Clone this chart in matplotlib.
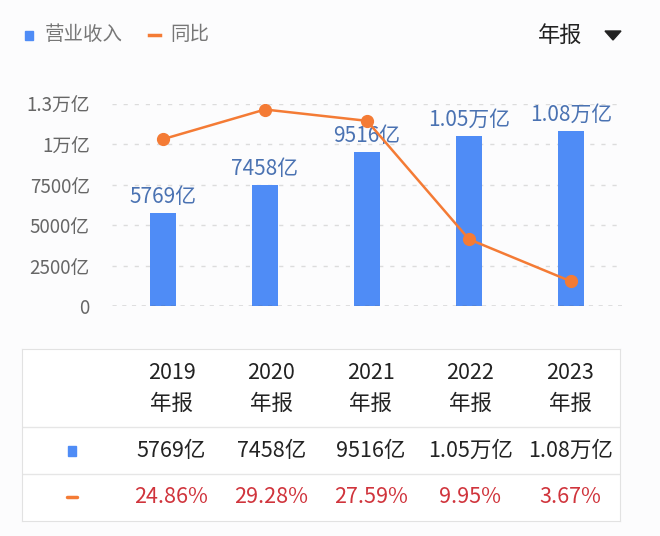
import matplotlib
matplotlib.use('Agg')
import matplotlib.pyplot as plt
from matplotlib.patches import Rectangle, Polygon
from matplotlib.lines import Line2D

plt.rcParams['font.family'] = ['Noto Sans CJK SC', 'DejaVu Sans']

years = ['2019', '2020', '2021', '2022', '2023']
revenue = [5769, 7458, 9516, 10500, 10800]          # 亿元
revenue_labels = ['5769亿', '7458亿', '9516亿', '1.05万亿', '1.08万亿']
yoy = [24.86, 29.28, 27.59, 9.95, 3.67]             # %
yoy_labels = ['24.86%', '29.28%', '27.59%', '9.95%', '3.67%']
yticks = [0, 2500, 5000, 7500, 10000, 12500]
ytick_labels = ['0', '2500亿', '5000亿', '7500亿', '1万亿', '1.3万亿']

BLUE = '#4F8CF6'
ORANGE = '#F47B35'
LABEL_BLUE = '#4A72B2'
RED = '#D0343C'
GRID = '#DCDCDC'

W, H = 660, 536
fig = plt.figure(figsize=(W / 100, H / 100), dpi=100, facecolor='#FCFCFD')

def fx(px):
    return px / W

def fy(px):
    return 1 - px / H

# ---- main chart
ax = fig.add_axes([fx(112), fy(306), fx(622) - fx(112), fy(104) - fy(306)])
ax.set_facecolor('none')
x = range(len(years))
ax.bar(x, revenue, width=0.255, color=BLUE, zorder=2)
for i, (v, lab) in enumerate(zip(revenue, revenue_labels)):
    ax.text(i, v + 320, lab, ha='center', va='bottom', fontsize=15, color=LABEL_BLUE, zorder=4)
ax.set_xlim(-0.5, 4.5)
ax.set_ylim(0, 12500)
ax.set_yticks(yticks)
ax.set_yticklabels(ytick_labels, fontsize=13.5, color='#666666')
ax.tick_params(axis='y', length=0, pad=16)
ax.set_xticks([])
for s in ax.spines.values():
    s.set_visible(False)
for t in yticks[1:]:
    ax.axhline(t, color=GRID, lw=1, ls=(0, (3, 5)), zorder=1)
ax.axhline(0, color='#666666', lw=1, ls=(0, (3, 4)), zorder=3)

ax2 = ax.twinx()
ax2.plot(list(x), yoy, color=ORANGE, lw=1.8, marker='o', ms=8.5, zorder=5)
ax2.set_ylim(0, 30.1)
ax2.axis('off')

# ---- legend / header
fig.patches.append(Rectangle((fx(25), fy(40)), fx(8), fy(31) - fy(40), transform=fig.transFigure,
                             color=BLUE, figure=fig))
fig.text(fx(45), fy(35), '营业收入', fontsize=14, color='#777777', va='center', ha='left')
fig.lines.append(Line2D([fx(149), fx(160)], [fy(35), fy(35)], transform=fig.transFigure,
                        color=ORANGE, lw=2.5, figure=fig))
fig.text(fx(170), fy(35), '同比', fontsize=14, color='#777777', va='center', ha='left')
fig.text(fx(538), fy(35), '年报', fontsize=16, color='#222222', va='center', ha='left')
fig.patches.append(Polygon([(fx(605), fy(31)), (fx(621), fy(31)), (fx(613), fy(40))],
                           closed=True, transform=fig.transFigure, color='#222222', figure=fig))

# ---- table
tb = fig.add_axes([fx(22), fy(521), fx(620) - fx(22), fy(349) - fy(521)])
tb.set_xlim(-0.5, 5.5)
tb.set_ylim(172, 0)
tb.set_facecolor('white')
for s in tb.spines.values():
    s.set_color('#E2E2E2')
tb.set_xticks([])
tb.set_yticks([])
for yline in (78, 125):
    tb.axhline(yline, color='#E6E6E6', lw=1)
for i, yr in enumerate(years, start=1):
    tb.text(i, 24, yr, ha='center', va='center', fontsize=15.5, color='#222222')
    tb.text(i, 55, '年报', ha='center', va='center', fontsize=15.5, color='#222222')
    tb.text(i, 102, revenue_labels[i - 1], ha='center', va='center', fontsize=15.5, color='#222222')
    tb.text(i, 148, yoy_labels[i - 1], ha='center', va='center', fontsize=15.5, color=RED)
tb.add_patch(Rectangle((-0.04, 97), 0.08, 10, color=BLUE))
tb.plot([-0.05, 0.05], [148, 148], color=ORANGE, lw=2.5, solid_capstyle='round')

fig.savefig('out.png', dpi=100, facecolor=fig.get_facecolor())
